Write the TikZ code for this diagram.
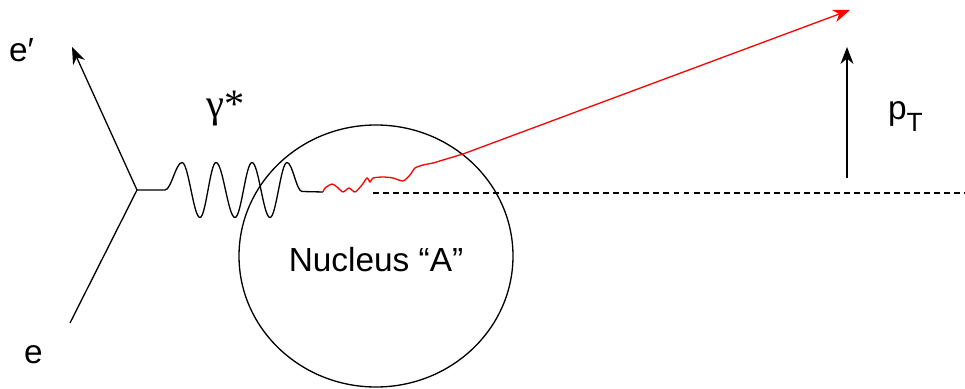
\documentclass[tikz,border=0pt]{standalone}
\usepackage{fontspec}
\setmainfont{Liberation Sans}
\newfontfamily\greekfont{Liberation Serif}
\usetikzlibrary{positioning,arrows.meta,shapes.geometric}

\begin{document}
\begin{tikzpicture}[line width=0.75pt, >={Stealth[length=3.4mm,width=2.6mm]},
    every node/.style={font=\fontsize{19}{22}\selectfont, inner sep=0pt}]
    \useasboundingbox (0,0) rectangle (19.3,7.76);
    \coordinate (v) at (2.74,3.96);
    \coordinate (eo) at (1.44,6.82);
    \coordinate (ei) at (1.40,1.30);
    \coordinate (hit) at (6.46,3.92);
    \coordinate (kink) at (9.26,4.68);
    \coordinate (jet) at (17.00,7.56);
    \coordinate (d0) at (7.46,3.90);\coordinate (d1) at (19.3,3.90);
    \coordinate (p0) at (16.94,4.20);\coordinate (p1) at (16.94,6.82);
    \node[draw,ellipse,minimum width=5.48cm,minimum height=5.24cm] (A) at (7.52,2.64) {};
    \node[anchor=base] (nuc) at (7.52,2.32) {Nucleus “A”};
    \node[anchor=base west] (elo) at (0.17,6.52) {e′};
    \node[anchor=base west] (eli) at (0.47,0.50) {e};
    \node[anchor=base west] (gam) at (4.12,5.40) {\greekfont\fontsize{23}{24}\selectfont γ*};
    \node[anchor=base west] (pt) at (17.75,5.36) {p\raisebox{-0.24cm}{\fontsize{15}{15}\selectfont T}};
    % electron lines and photon
    \draw (ei) -- (v);\draw[->] (v) -- (eo);
    \draw (v) -- (3.30,3.96) cos (3.47,4.235) sin (3.64,4.51) cos (3.82,3.96) sin (4.00,3.41)
      cos (4.16,3.96) sin (4.32,4.51) cos (4.51,3.96) sin (4.70,3.41) cos (4.87,3.96) sin (5.04,4.51)
      cos (5.22,3.96) sin (5.40,3.41) cos (5.57,3.96) sin (5.74,4.51) cos (5.89,4.22) sin (6.04,3.93) -- (hit);
    % struck quark
    \draw[red] plot[smooth,tension=0.4] coordinates {(6.46,3.92) (6.50,4.00) (6.64,4.08) (6.74,4.02) (6.86,3.92)
      (6.98,4.00) (7.10,3.92) (7.24,4.06) (7.34,4.20) (7.40,4.12) (7.46,4.20) (7.66,4.22) (7.86,4.20)
      (8.06,4.14) (8.20,4.26) (8.30,4.40) (8.46,4.46) (8.66,4.50) (8.86,4.56) (9.26,4.68)};
    \draw[red,->] (kink) -- (jet);
    \draw[dash pattern=on 3.4pt off 2.3pt] (d0) -- (d1);
    \draw[->] (p0) -- (p1);
\end{tikzpicture}
\end{document}
